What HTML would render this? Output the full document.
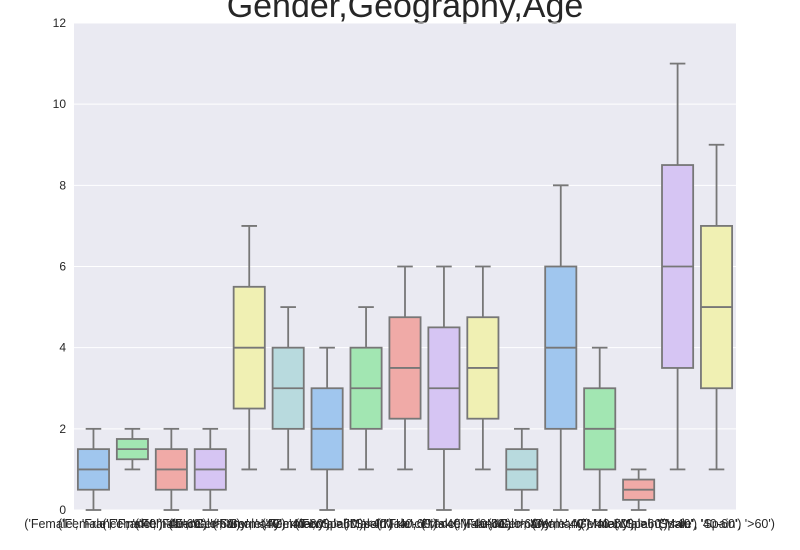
<!DOCTYPE html>
<html><head><meta charset="utf-8"><style>
body{margin:0;background:#fff;}
svg{display:block;font-family:"Liberation Sans",Arial,sans-serif;}
</style></head><body>
<svg id="chart" width="800" height="550">
<rect x="74" y="23" width="662" height="487" fill="#EAEAF2"/>
<text x="405" y="17" font-size="34" text-anchor="middle" fill="#262626">Gender,Geography,Age</text>
<g id="grid"></g><g id="boxes"></g><g id="labels"></g>
</svg>
<script>
const categories=["('Female', 'France', '<40')","('Female', 'France', '40-60')","('Female', 'France', '>60')","('Female', 'Germany', '<40')","('Female', 'Germany', '40-60')","('Female', 'Germany', '>60')","('Female', 'Spain', '<40')","('Female', 'Spain', '40-60')","('Male', 'France', '<40')","('Male', 'France', '40-60')","('Male', 'France', '>60')","('Male', 'Germany', '<40')","('Male', 'Germany', '40-60')","('Male', 'Germany', '>60')","('Male', 'Spain', '<40')","('Male', 'Spain', '40-60')","('Male', 'Spain', '>60')"];
const whiskerLow=[0,1,0,0,1,1,0,1,1,0,1,0,0,0,0,1,1];
const q1=[0.5,1.25,0.5,0.5,2.5,2,1,2,2.25,1.5,2.25,0.5,2,1,0.25,3.5,3];
const median=[1,1.5,1,1,4,3,2,3,3.5,3,3.5,1,4,2,0.5,6,5];
const q3=[1.5,1.75,1.5,1.5,5.5,4,3,4,4.75,4.5,4.75,1.5,6,3,0.75,8.5,7];
const whiskerHigh=[2,2,2,2,7,5,4,5,6,6,6,2,8,4,1,11,9];
const yTicks=[0,2,4,6,8,10,12];
const palette=["#A0C6EE","#A2E6B2","#F0AAA7","#D6C5F3","#F0F0B3","#B8DADE"];
const NS="http://www.w3.org/2000/svg";
const X0=74,X1=736,Y0=510,Y1=23;
const step=(X1-X0)/categories.length;
const xc=i=>X0+step*(i+0.5);
const y=v=>Y0-(v/12)*(Y0-Y1);
function mk(tag,attrs,parent){const e=document.createElementNS(NS,tag);for(const k in attrs)e.setAttribute(k,attrs[k]);parent.appendChild(e);return e;}
const grid=document.getElementById('grid'),boxes=document.getElementById('boxes'),labels=document.getElementById('labels');
yTicks.forEach(t=>{
  const l=mk('line',{x1:X0,x2:X1,y1:y(t),y2:y(t),stroke:'#fff','stroke-width':1},grid);
  
  
  const tx=mk('text',{x:X0-8,y:y(t)+4,'font-size':12,'text-anchor':'end',fill:'#262626'},grid);
  tx.textContent=t;
  
  
});
categories.forEach((c,i)=>{
  const g=mk('g',{},boxes);
  
  
  const cx=xc(i),bw=step*0.8,cw=bw*0.5,st='#777777',sw=1.8;
  mk('line',{x1:cx,x2:cx,y1:y(whiskerLow[i]),y2:y(q1[i]),stroke:st,'stroke-width':sw},g);
  mk('line',{x1:cx,x2:cx,y1:y(q3[i]),y2:y(whiskerHigh[i]),stroke:st,'stroke-width':sw},g);
  mk('line',{x1:cx-cw/2,x2:cx+cw/2,y1:y(whiskerLow[i]),y2:y(whiskerLow[i]),stroke:st,'stroke-width':sw},g);
  mk('line',{x1:cx-cw/2,x2:cx+cw/2,y1:y(whiskerHigh[i]),y2:y(whiskerHigh[i]),stroke:st,'stroke-width':sw},g);
  mk('rect',{x:cx-bw/2,y:y(q3[i]),width:bw,height:y(q1[i])-y(q3[i]),fill:palette[i%6],stroke:st,'stroke-width':sw},g);
  mk('line',{x1:cx-bw/2,x2:cx+bw/2,y1:y(median[i]),y2:y(median[i]),stroke:st,'stroke-width':sw},g);
  const tx=mk('text',{x:cx,y:528,'font-size':12.5,'text-anchor':'middle',fill:'#262626'},labels);
  tx.textContent=c;
  
  
});
</script>
</body></html>
